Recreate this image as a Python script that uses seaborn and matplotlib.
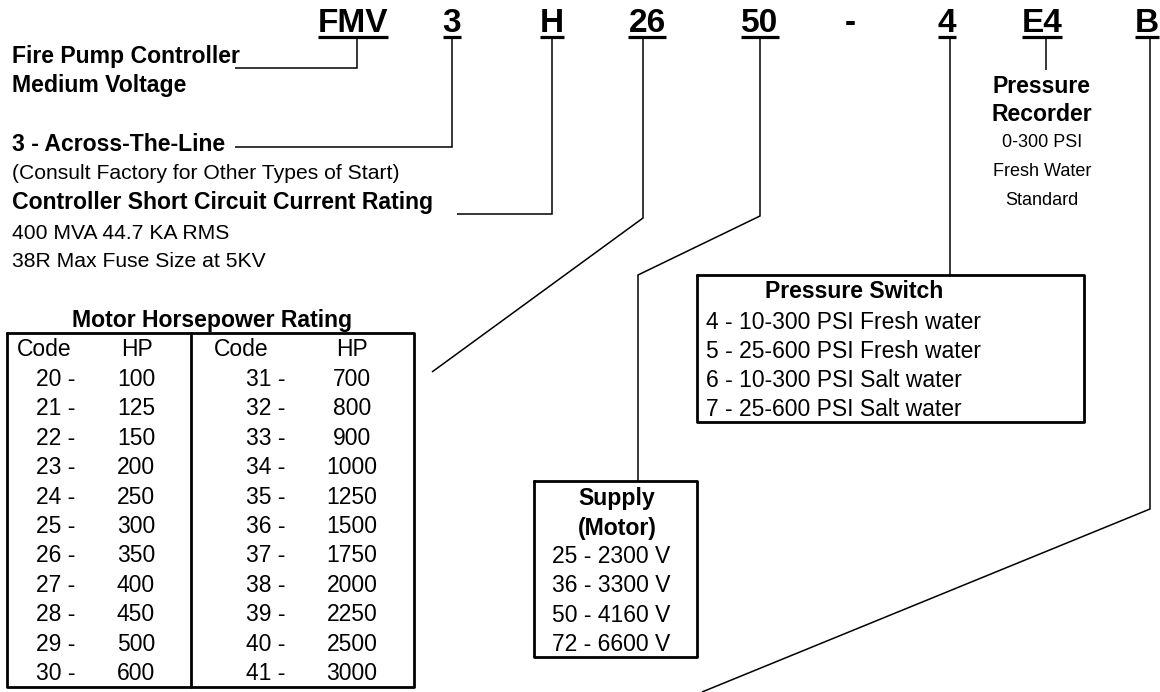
import matplotlib
matplotlib.use("Agg")
import matplotlib.pyplot as plt
import seaborn as sns

# model number parts
code_parts = ["FMV", "3", "H", "26", "50", "-", "4", "E4", "B"]

# motor horsepower table
hp_codes_left = ["20", "21", "22", "23", "24", "25", "26", "27", "28", "29", "30"]
hp_left = ["100", "125", "150", "200", "250", "300", "350", "400", "450", "500", "600"]
hp_codes_right = ["31", "32", "33", "34", "35", "36", "37", "38", "39", "40", "41"]
hp_right = ["700", "800", "900", "1000", "1250", "1500", "1750", "2000", "2250", "2500", "3000"]

supply_codes = ["25", "36", "50", "72"]
supply_volts = ["2300 V", "3300 V", "4160 V", "6600 V"]

switch_options = ["4 - 10-300 PSI Fresh water", "5 - 25-600 PSI Fresh water",
                  "6 - 10-300 PSI Salt water", "7 - 25-600 PSI Salt water"]

recorder_lines = ["0-300 PSI", "Fresh Water", "Standard"]

sns.set_theme(style="white")
plt.rcParams['font.family'] = ['Liberation Sans', 'DejaVu Sans']
plt.rcParams['text.color'] = 'black'

fig = plt.figure(figsize=(11.6, 6.92), dpi=100)
ax = fig.add_axes([0, 0, 1, 1])
ax.set_xlim(0, 1160)
ax.set_ylim(692, 0)
ax.axis('off')

K = 'black'
thin = 1.1
thick = 2.0
BOLD = 16.6
REG = 15.2
BOX = 16.5

# header codes with underlines
part_x = [353, 452, 552, 647, 760, 850, 947, 1042, 1147]
part_txt = []
for part, x in zip(code_parts, part_x):
    t = ax.text(x, 32, part, ha='center', va='baseline', fontsize=24, fontweight='bold', color=K)
    part_txt.append(t)

fig.canvas.draw()
inv = ax.transData.inverted()
r = fig.canvas.get_renderer()
for part, t in zip(code_parts, part_txt):
    if part == "-":
        continue
    bb = t.get_window_extent(r)
    x0, _ = inv.transform((bb.x0, bb.y0))
    x1, _ = inv.transform((bb.x1, bb.y0))
    ax.plot([x0, x1], [36.5, 36.5], color=K, lw=2.3, solid_capstyle='butt')

# connector lines
connectors = [
    [(357, 38), (357, 68), (235, 68)],
    [(452, 38), (452, 147), (235, 147)],
    [(552, 38), (552, 214), (457, 214)],
    [(643, 38), (643, 218), (432, 372)],
    [(760, 38), (760, 216), (638, 275), (638, 481)],
    [(950, 38), (950, 275)],
    [(1046, 38), (1046, 70)],
    [(1150, 38), (1150, 509), (702, 692)],
]
for pts in connectors:
    xs, ys = zip(*pts)
    ax.plot(xs, ys, color=K, lw=thin, solid_capstyle='butt', solid_joinstyle='miter')

# left description block
ax.text(12, 63, "Fire Pump Controller", fontsize=BOLD, fontweight='bold', va='baseline')
ax.text(12, 92, "Medium Voltage", fontsize=BOLD, fontweight='bold', va='baseline')
ax.text(12, 151, "3 - Across-The-Line", fontsize=BOLD, fontweight='bold', va='baseline')
ax.text(12, 179, "(Consult Factory for Other Types of Start)", fontsize=REG, va='baseline')
ax.text(12, 209, "Controller Short Circuit Current Rating", fontsize=BOLD, fontweight='bold', va='baseline')
ax.text(12, 239, "400 MVA 44.7 KA RMS", fontsize=REG, va='baseline')
ax.text(12, 267, "38R Max Fuse Size at 5KV", fontsize=REG, va='baseline')

# pressure recorder
ax.text(1042, 93, "Pressure", fontsize=BOLD, fontweight='bold', ha='center', va='baseline')
ax.text(1042, 121, "Recorder", fontsize=BOLD, fontweight='bold', ha='center', va='baseline')
for i, s in enumerate(recorder_lines):
    ax.text(1042, 147 + 29 * i, s, fontsize=13, ha='center', va='baseline')

# motor horsepower table
ax.text(212, 327, "Motor Horsepower Rating", fontsize=BOLD, fontweight='bold', ha='center', va='baseline')
ax.plot([7, 414, 414, 7, 7], [333, 333, 687, 687, 333], color=K, lw=thick)
ax.plot([191, 191], [333, 687], color=K, lw=thick)
ax.text(44, 356, "Code", fontsize=BOX, ha='center', va='baseline')
ax.text(137, 356, "HP", fontsize=BOX, ha='center', va='baseline')
ax.text(241, 356, "Code", fontsize=BOX, ha='center', va='baseline')
ax.text(352, 356, "HP", fontsize=BOX, ha='center', va='baseline')
for i in range(len(hp_codes_left)):
    y = 386 + 29.4 * i
    ax.text(36, y, hp_codes_left[i] + " -", fontsize=BOX, va='baseline')
    ax.text(136, y, hp_left[i], fontsize=BOX, ha='center', va='baseline')
    ax.text(246, y, hp_codes_right[i] + " -", fontsize=BOX, va='baseline')
    ax.text(352, y, hp_right[i], fontsize=BOX, ha='center', va='baseline')

# pressure switch box
ax.plot([697, 1084, 1084, 697, 697], [275, 275, 422, 422, 275], color=K, lw=thick)
ax.text(854, 298, "Pressure Switch", fontsize=BOLD, fontweight='bold', ha='center', va='baseline')
for i, s in enumerate(switch_options):
    ax.text(706, 329 + 29 * i, s, fontsize=BOX, va='baseline')

# supply box
ax.plot([534, 697, 697, 534, 534], [481, 481, 657, 657, 481], color=K, lw=thick)
ax.text(617, 505, "Supply", fontsize=BOLD, fontweight='bold', ha='center', va='baseline')
ax.text(617, 535, "(Motor)", fontsize=BOLD, fontweight='bold', ha='center', va='baseline')
for i in range(len(supply_codes)):
    ax.text(552, 563 + 29.4 * i, supply_codes[i] + " - " + supply_volts[i], fontsize=BOX, va='baseline')

fig.savefig("out.png", dpi=100, facecolor='white')
